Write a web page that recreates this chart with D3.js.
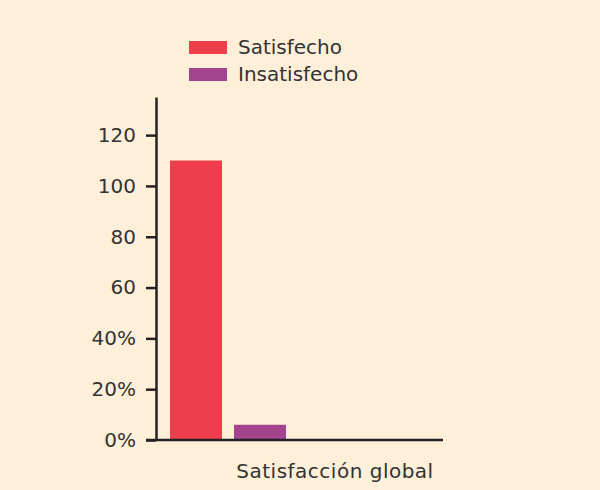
<!DOCTYPE html>
<html><head><meta charset="utf-8">
<script src="https://cdn.jsdelivr.net/npm/d3@7"></script>
<style>
html,body{margin:0;padding:0;background:#FEEFD9;}
svg{display:block;}
text{font-family:"DejaVu Sans",sans-serif;fill:#333;}
</style></head><body>
<svg id="c" width="600" height="490"></svg>
<script>
const categories = ["Satisfacción global"];
const seriesNames = ["Satisfecho", "Insatisfecho"];
const satisfecho = [110];
const insatisfecho = [6];
const tickValues = [0, 20, 40, 60, 80, 100, 120];
const tickLabels = ["0%", "20%", "40%", "60", "80", "100", "120"];
const colors = ["#EE3E4C", "#A4448F"];

const FONT = '"DejaVu Sans",sans-serif';
const FS = "20px";
const svg = d3.select("#c");
const W = 600, H = 490;
svg.append("rect").attr("width", W).attr("height", H).attr("fill", "#FEEFD9");

const x0 = 156, x1 = 443, yTop = 97, yBase = 440;
const y = d3.scaleLinear().domain([0, 135]).range([yBase, yTop]);

// bars
const sub = d3.scaleBand().domain(seriesNames).range([170, 286]).paddingInner(12/64).paddingOuter(0);
const series = [satisfecho, insatisfecho];
categories.forEach((c, ci) => {
  seriesNames.forEach((s, si) => {
    svg.append("rect")
      .attr("x", sub(s))
      .attr("y", y(series[si][ci]))
      .attr("width", sub.bandwidth())
      .attr("height", yBase - y(series[si][ci]))
      .attr("fill", colors[si]);
  });
  svg.append("text")
    .attr("x", 335).attr("y", 478)
    .attr("text-anchor", "middle")
    .style("font-size", FS)
    .style("letter-spacing", "0.5px")
    .text(c);
});

// y axis
const yAxis = d3.axisLeft(y).tickValues(tickValues)
  .tickFormat((d, i) => tickLabels[i]).tickSize(10).tickSizeOuter(0).tickPadding(10);
const gy = svg.append("g").attr("transform", `translate(${x0},0)`).call(yAxis);
gy.select(".domain").attr("stroke", "#222").attr("stroke-width", 2.5);
gy.selectAll(".tick line").attr("stroke", "#222").attr("stroke-width", 2.5);
gy.selectAll(".tick text").style("font-size", FS).style("font-family", FONT).attr("fill", "#333");

// x axis baseline
svg.append("line").attr("x1", 146).attr("x2", x1).attr("y1", yBase).attr("y2", yBase)
  .attr("stroke", "#222").attr("stroke-width", 2.5);

// legend
const lg = svg.append("g");
seriesNames.forEach((s, i) => {
  lg.append("rect").attr("x", 189).attr("y", 41 + i * 27).attr("width", 38).attr("height", 13).attr("fill", colors[i]);
  lg.append("text").attr("x", 238).attr("y", 54 + i * 27).style("font-size", FS).text(s);
});
</script>
</body></html>
